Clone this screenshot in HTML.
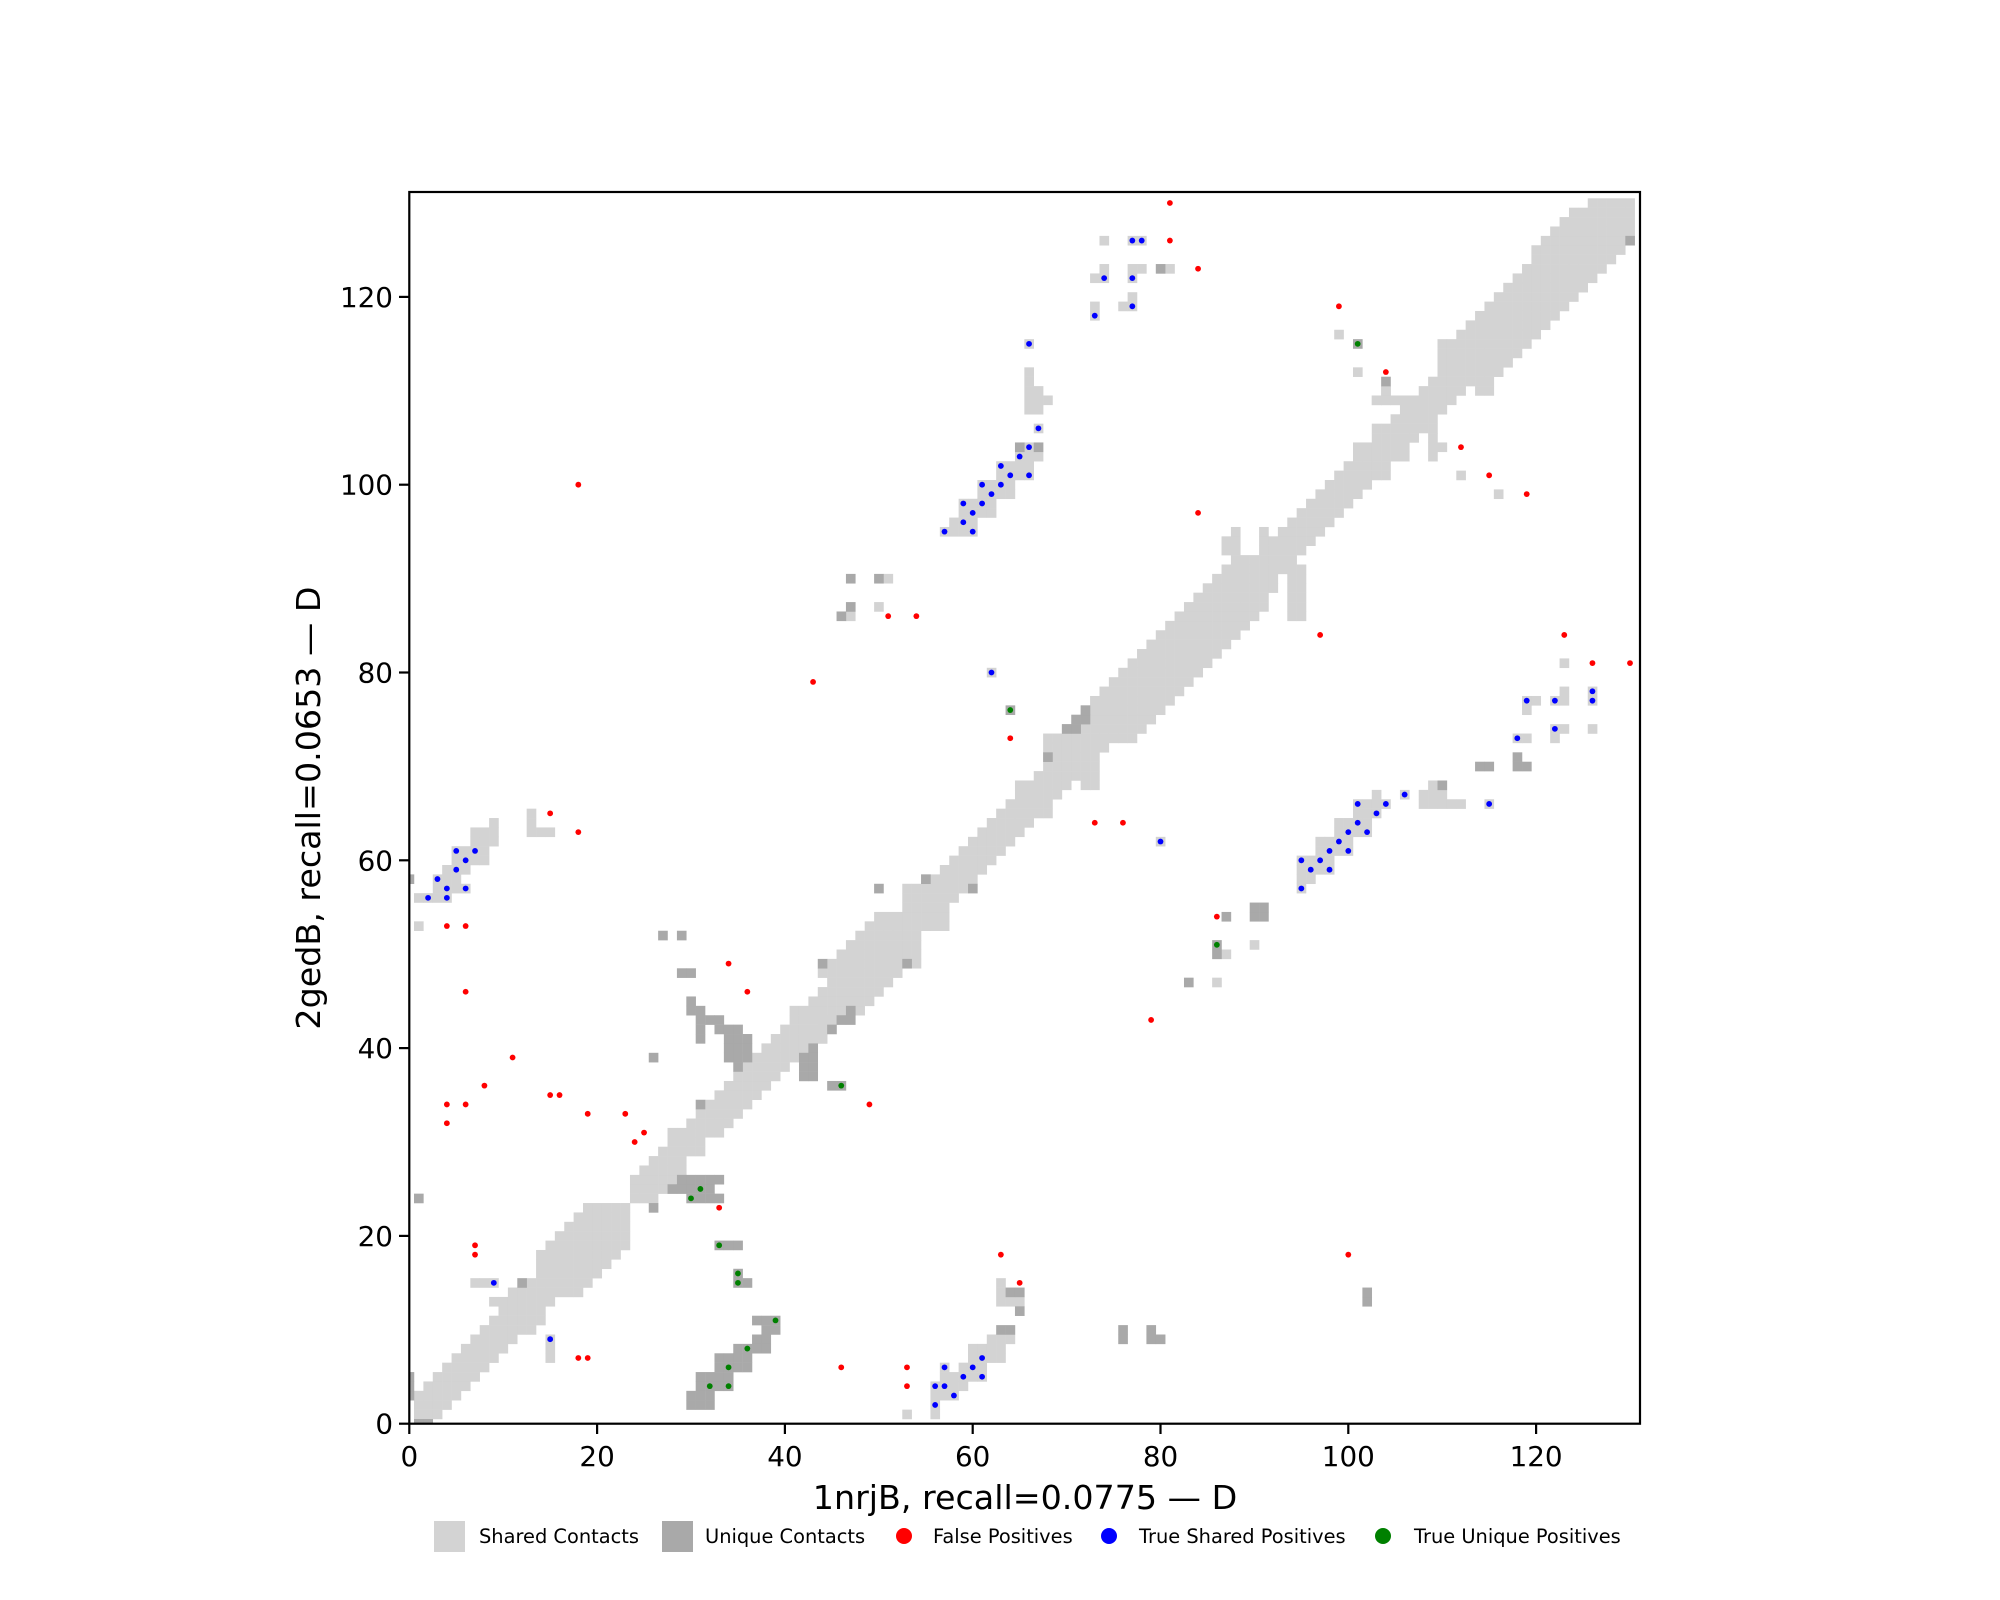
<!DOCTYPE html>
<html><head><meta charset="utf-8">
<style>
html,body{margin:0;padding:0;background:#fff;}
svg{display:block;}
text{font-family:"DejaVu Sans","Liberation Sans",sans-serif;fill:#000;}
</style></head>
<body>
<svg id="s" width="2000" height="1600" viewBox="0 0 2000 1600" xmlns="http://www.w3.org/2000/svg">
<defs><clipPath id="c"><rect x="409.3" y="192" width="1230.7" height="1231.7"/></clipPath></defs>
<g id="cells" clip-path="url(#c)"></g>
<g id="pts" clip-path="url(#c)"></g>
<rect x="409.3" y="192" width="1230.7" height="1231.7" fill="none" stroke="#000" stroke-width="2.2"/>
<g stroke="#000" stroke-width="2.2">
<line x1="409.3" y1="1424" x2="409.3" y2="1434"/><line x1="597.1" y1="1424" x2="597.1" y2="1434"/><line x1="784.9" y1="1424" x2="784.9" y2="1434"/><line x1="972.7" y1="1424" x2="972.7" y2="1434"/><line x1="1160.5" y1="1424" x2="1160.5" y2="1434"/><line x1="1348.3" y1="1424" x2="1348.3" y2="1434"/><line x1="1536.1" y1="1424" x2="1536.1" y2="1434"/>
<line x1="399" y1="1423.7" x2="409.3" y2="1423.7"/><line x1="399" y1="1235.9" x2="409.3" y2="1235.9"/><line x1="399" y1="1048.1" x2="409.3" y2="1048.1"/><line x1="399" y1="860.3" x2="409.3" y2="860.3"/><line x1="399" y1="672.5" x2="409.3" y2="672.5"/><line x1="399" y1="484.7" x2="409.3" y2="484.7"/><line x1="399" y1="296.9" x2="409.3" y2="296.9"/>
</g>
<g font-size="27.8" text-anchor="middle">
<text x="409.3" y="1466">0</text><text x="597.1" y="1466">20</text><text x="784.9" y="1466">40</text><text x="972.7" y="1466">60</text><text x="1160.5" y="1466">80</text><text x="1348.3" y="1466">100</text><text x="1536.1" y="1466">120</text>
</g>
<g font-size="27.8" text-anchor="end">
<text x="393" y="1433.7">0</text><text x="393" y="1245.9">20</text><text x="393" y="1058.1">40</text><text x="393" y="870.3">60</text><text x="393" y="682.5">80</text><text x="393" y="494.7">100</text><text x="393" y="306.9">120</text>
</g>
<text x="1025" y="1509" font-size="33.3" text-anchor="middle">1nrjB, recall=0.0775 — D</text>
<text transform="translate(320,808) rotate(-90)" x="0" y="0" font-size="33.3" text-anchor="middle">2gedB, recall=0.0653 — D</text>
<g font-size="19.4">
<rect x="434" y="1521" width="31" height="31" fill="#d3d3d3"/><text x="479" y="1543">Shared Contacts</text>
<rect x="662" y="1521" width="31" height="31" fill="#a9a9a9"/><text x="705" y="1543">Unique Contacts</text>
<circle cx="904" cy="1536" r="8" fill="red"/><text x="933" y="1543">False Positives</text>
<circle cx="1109" cy="1536" r="8" fill="blue"/><text x="1139" y="1543">True Shared Positives</text>
<circle cx="1383" cy="1536" r="8" fill="green"/><text x="1414" y="1543">True Unique Positives</text>
</g>
</svg>
<script>
(function(){
var S=9.39,X0=409.3,Y0=1423.7,NS="http://www.w3.org/2000/svg";
var cg=document.getElementById('cells'),pg=document.getElementById('pts');
function cell(i,j,col){var r=document.createElementNS(NS,'rect');r.setAttribute('x',(X0+(i-0.5)*S).toFixed(2));r.setAttribute('y',(Y0-(j+0.5)*S).toFixed(2));r.setAttribute('width',(S+0.25).toFixed(2));r.setAttribute('height',(S+0.25).toFixed(2));r.setAttribute('fill',col);cg.appendChild(r);}
function seg(j,a,b,col){for(var i=a;i<=b;i++)cell(i,j,col);}
function blk(i0,i1,j0,j1,col){for(var j=j0;j<=j1;j++)seg(j,i0,i1,col);}
var L='#d3d3d3',D='#a9a9a9';
var band={1:[[1,3]],2:[[1,4]],3:[[1,5]],4:[[2,6]],5:[[3,7]],6:[[4,8]],7:[[5,9]],8:[[6,10]],9:[[7,11]],10:[[8,13]],11:[[9,14]],12:[[10,14]],13:[[9,15]],14:[[11,18]],15:[[13,19]],16:[[14,20]],17:[[14,21]],18:[[14,22]],19:[[15,23]],20:[[16,23]],21:[[17,23]],22:[[18,23]],23:[[19,23]],24:[[24,26]],25:[[24,27]],26:[[24,28]],27:[[25,29]],28:[[26,29]],29:[[27,31]],30:[[28,31]],31:[[28,33]],32:[[30,34]],33:[[31,35]],34:[[32,36]],35:[[33,37]],36:[[34,38]],37:[[35,39]],38:[[36,40]],39:[[37,41]],40:[[38,42]],41:[[39,44]],42:[[40,44]],43:[[41,45]],44:[[41,48]],45:[[43,49]],46:[[44,50]],47:[[45,51]],48:[[44,52]],49:[[45,54]],50:[[46,54]],51:[[47,54]],52:[[48,54]],53:[[49,57]],54:[[50,57]],55:[[53,57]],56:[[53,58]],57:[[53,59]],58:[[55,60]],59:[[57,61]],60:[[58,62]],61:[[59,63]],62:[[60,64]],63:[[61,65]],64:[[62,66]],65:[[63,68]],66:[[64,68]],67:[[65,69]],68:[[65,70],[72,73]],69:[[67,73]],70:[[68,73]],71:[[68,73]],72:[[68,74]],73:[[68,77]],74:[[70,78]],75:[[71,79]],76:[[72,80]],77:[[73,81]],78:[[74,82]],79:[[75,83]],80:[[76,84]],81:[[77,85]],82:[[78,86]],83:[[79,87]],84:[[80,88]],85:[[81,89]],86:[[82,90]],87:[[83,91],[94,95]],88:[[84,91],[94,95]],89:[[85,92],[94,95]],90:[[86,92],[94,95]],91:[[87,95]],92:[[88,94]],93:[[87,88],[91,95]],94:[[87,88],[91,96]],95:[[88,88],[91,91],[93,97]],96:[[94,98]],97:[[95,99]],98:[[96,100]],99:[[97,101]],100:[[98,102]],101:[[99,104]],102:[[100,104]],103:[[101,106],[109,109]],104:[[101,106],[109,110]],105:[[103,107],[109,109]],106:[[103,109]],107:[[105,109]],108:[[106,110]],109:[[103,111]],110:[[104,104],[108,112],[114,115]],111:[[109,115]],112:[[110,116]],113:[[110,117]],114:[[110,118]],115:[[110,119]],116:[[112,120]],117:[[113,121]],118:[[114,122]],119:[[115,123]],120:[[116,124]],121:[[117,125]],122:[[118,126]],123:[[119,127]],124:[[120,128]],125:[[120,129]],126:[[121,129]],127:[[122,130]],128:[[123,130]],129:[[124,130]],130:[[126,130]]};
for(var j in band){band[j].forEach(function(s){seg(+j,s[0],s[1],L);});}
var LB=[[7,9,15,15],[15,15,7,9],[44,44,41,43],[1,1,53,53],[1,4,56,56],[3,6,57,57],[3,5,58,58],[4,6,59,59],[5,8,60,61],[7,9,62,63],[13,15,63,63],[9,9,64,64],[13,13,64,65],
[50,50,87,87],[47,47,86,86],[51,51,90,90],[62,62,80,80],[80,80,62,62],[87,87,50,50],[86,86,47,47],[90,90,51,51],
[63,63,13,15],[64,65,13,13],[62,64,9,9],[60,63,7,8],[57,57,6,6],[59,61,6,6],[57,61,5,5],[56,59,4,4],[56,58,3,3],[56,56,1,2],[53,53,1,1],
[123,123,81,81],[123,123,77,78],[122,122,77,77],[126,126,77,78],[119,120,77,77],[119,119,76,76],[122,123,74,74],[122,122,73,73],[126,126,74,74],[118,119,73,73],
[109,109,68,68],[108,110,67,67],[106,106,67,67],[103,103,67,67],[108,112,66,66],[101,104,66,66],[115,115,66,66],[101,103,65,65],[99,102,63,64],[97,100,61,62],[95,98,59,60],[95,96,58,58],[95,95,57,57],
[74,74,126,126],[77,78,126,126],[74,74,123,123],[73,74,122,122],[77,78,123,123],[81,81,123,123],[77,77,122,122],[77,77,120,120],[76,77,119,119],[73,73,118,119],[66,66,115,115],
[66,66,108,112],[67,67,108,110],[68,68,109,109],[67,67,106,106],[66,66,104,104],[65,67,103,103],[63,66,101,102],[61,64,99,100],[59,62,97,98],[58,60,96,96],[57,60,95,95],
[99,99,116,116],[101,101,112,112],[104,104,110,110],[103,107,109,109],[112,112,101,101],[116,116,99,99],[94,95,86,86]];
LB.forEach(function(b){blk(b[0],b[1],b[2],b[3],L);});
var DB=[[1,2,0,0],[0,0,3,5],[12,12,15,15],[26,26,23,23],[31,31,34,34],[26,26,39,39],[1,1,24,24],[47,47,44,44],[44,44,49,49],[53,53,49,49],[55,55,58,58],[60,60,57,57],[68,68,71,71],[70,71,74,74],[71,72,75,75],[72,72,76,76],[130,130,126,126],[50,50,57,57],[104,104,111,111],[80,80,123,123],[65,65,104,104],[67,67,104,104],[47,47,90,90],[50,50,90,90],[47,47,87,87],[46,46,86,86],[87,87,54,54],[83,83,47,47],[110,110,68,68],[101,101,115,115],[64,64,76,76],[86,86,50,51],[45,45,42,42],[46,47,43,43],[27,27,52,52],[29,29,52,52],[29,30,48,48],[30,30,44,45],[31,31,44,44],[0,0,58,58],[102,102,13,14],[76,76,9,10],[79,79,9,10],[80,80,9,9],[65,65,12,12],[64,65,14,14],[63,64,10,10],[45,46,36,36],[118,118,71,71],[118,119,70,70],[114,115,70,70],[90,91,54,55],
[31,33,43,43],[31,31,41,42],[33,35,42,42],[34,36,39,41],[35,35,38,38],[43,43,40,40],[42,43,37,39],
[29,33,26,26],[28,32,25,25],[30,33,24,24],[33,35,19,19],[35,35,16,16],[35,36,15,15],[37,39,11,11],[38,39,10,10],[37,38,9,9],[35,38,8,8],[33,36,6,7],[31,34,4,5],[30,32,2,3]];
DB.forEach(function(b){blk(b[0],b[1],b[2],b[3],D);});
function pts(list,col){list.forEach(function(p){var c=document.createElementNS(NS,'circle');c.setAttribute('cx',(X0+p[0]*S).toFixed(2));c.setAttribute('cy',(Y0-p[1]*S).toFixed(2));c.setAttribute('r','2.9');c.setAttribute('fill',col);pg.appendChild(c);});}
pts([[11,39],[8,36],[4,34],[6,34],[4,32],[15,35],[16,35],[19,33],[23,33],[25,31],[24,30],[33,23],[7,19],[7,18],[18,7],[19,7],[4,53],[6,53],[15,65],[18,63],[43,79],[6,46],[34,49],[36,46],[51,86],[54,86],[64,73],[73,64],[76,64],[86,54],[49,34],[79,43],[63,18],[65,15],[46,6],[53,6],[53,4],[100,18],[97,84],[123,84],[126,81],[130,81],[81,130],[81,126],[84,123],[84,97],[99,119],[104,112],[112,104],[115,101],[119,99],[18,100]],'red');
pts([[9,15],[15,9],[2,56],[4,56],[4,57],[6,57],[3,58],[5,59],[6,60],[5,61],[7,61],[62,80],[80,62],[57,6],[60,6],[59,5],[61,5],[56,4],[57,4],[58,3],[56,2],[61,7],[122,77],[126,78],[126,77],[119,77],[122,74],[118,73],[106,67],[115,66],[101,66],[104,66],[103,65],[101,64],[100,63],[102,63],[99,62],[98,61],[100,61],[95,60],[97,60],[96,59],[98,59],[95,57],[77,126],[78,126],[74,122],[77,122],[77,119],[73,118],[66,115],[67,106],[66,104],[65,103],[63,102],[64,101],[66,101],[61,100],[63,100],[62,99],[59,98],[61,98],[60,97],[59,96],[57,95],[60,95]],'blue');
pts([[31,25],[30,24],[33,19],[35,16],[35,15],[39,11],[36,8],[34,6],[32,4],[34,4],[46,36],[64,76],[86,51],[101,115]],'green');
})();
</script>
</body></html>
